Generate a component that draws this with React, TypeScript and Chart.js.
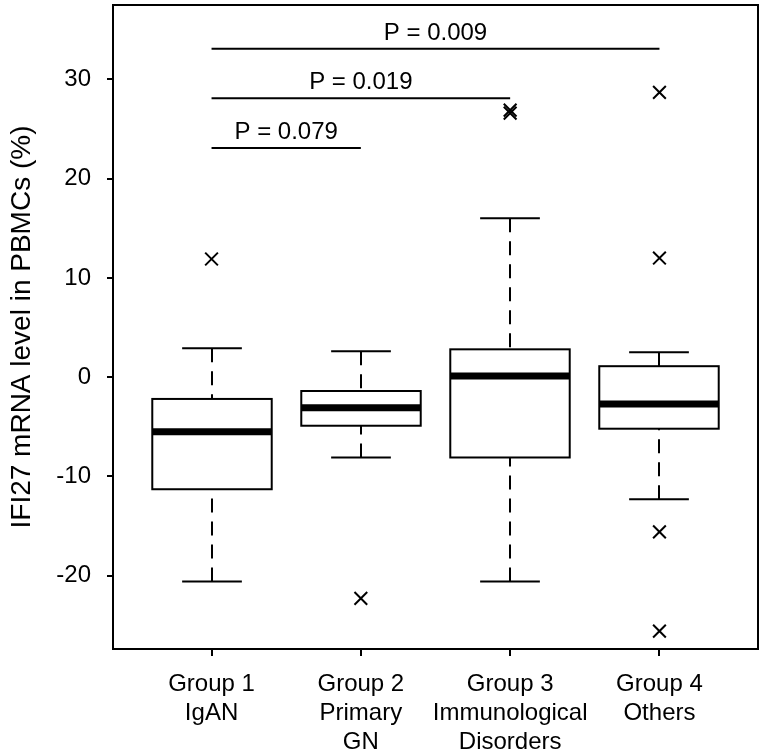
import React, { useEffect, useRef } from "react";
import { Chart, registerables } from "chart.js";

Chart.register(...registerables);

// ---- data ----
const categories: string[][] = [
  ["Group 1", "IgAN"],
  ["Group 2", "Primary", "GN"],
  ["Group 3", "Immunological", "Disorders"],
  ["Group 4", "Others"],
];
const whiskerLow = [-20.6, -8.1, -20.6, -12.3];
const q1 = [-11.3, -4.9, -8.1, -5.2];
const median = [-5.5, -3.1, 0.1, -2.7];
const q3 = [-2.2, -1.4, 2.8, 1.1];
const whiskerHigh = [2.9, 2.6, 16.0, 2.5];
const outliers: number[][] = [[11.9], [-22.3], [26.9, 26.6], [28.7, 12.0, -15.6, -25.6]];
const yTicks = [-20, -10, 0, 10, 20, 30];
const compFrom = [1, 1, 1];
const compTo = [2, 3, 4];
const compY = [23.1, 28.1, 33.1];
const compLabels = ["P = 0.079", "P = 0.019", "P = 0.009"];
const yTitle = "IFI27 mRNA level in PBMCs (%)";

const FONT = "'Liberation Sans', Arial, Helvetica, sans-serif";

const boxPlugin = {
  id: "boxplotDraw",
  beforeDatasetsDraw(chart: any) {
    const { ctx, chartArea } = chart;
    const x = chart.scales.x;
    const y = chart.scales.y;
    ctx.save();
    ctx.beginPath();
    ctx.rect(chartArea.left, chartArea.top, chartArea.right - chartArea.left, chartArea.bottom - chartArea.top);
    ctx.clip();
    const halfBox = x.getPixelForValue(1.4) - x.getPixelForValue(1.0);
    const halfCap = x.getPixelForValue(1.2) - x.getPixelForValue(1.0);
    ctx.strokeStyle = "#000";
    for (let i = 0; i < categories.length; i++) {
      const cx = Math.round(x.getPixelForValue(i + 1));
      const yLo = y.getPixelForValue(whiskerLow[i]);
      const yQ1 = y.getPixelForValue(q1[i]);
      const yMed = y.getPixelForValue(median[i]);
      const yQ3 = y.getPixelForValue(q3[i]);
      const yHi = y.getPixelForValue(whiskerHigh[i]);
      // dashed whiskers
      ctx.lineWidth = 2;
      ctx.setLineDash([14, 9]);
      ctx.beginPath();
      ctx.moveTo(cx, yHi);
      ctx.lineTo(cx, yQ3);
      ctx.moveTo(cx, yLo);
      ctx.lineTo(cx, yQ1);
      ctx.stroke();
      ctx.setLineDash([]);
      // caps
      ctx.beginPath();
      ctx.moveTo(cx - halfCap, yHi);
      ctx.lineTo(cx + halfCap, yHi);
      ctx.moveTo(cx - halfCap, yLo);
      ctx.lineTo(cx + halfCap, yLo);
      ctx.stroke();
      // box
      ctx.fillStyle = "#fff";
      ctx.fillRect(cx - halfBox, yQ3, 2 * halfBox, yQ1 - yQ3);
      ctx.strokeRect(cx - halfBox, yQ3, 2 * halfBox, yQ1 - yQ3);
      // median
      ctx.lineWidth = 7;
      ctx.beginPath();
      ctx.moveTo(cx - halfBox, yMed);
      ctx.lineTo(cx + halfBox, yMed);
      ctx.stroke();
    }
    // comparison bars
    ctx.lineWidth = 2;
    ctx.fillStyle = "#000";
    ctx.font = `24px ${FONT}`;
    ctx.textAlign = "center";
    ctx.textBaseline = "alphabetic";
    for (let k = 0; k < compY.length; k++) {
      const x0 = x.getPixelForValue(compFrom[k]);
      const x1 = x.getPixelForValue(compTo[k]);
      const yy = y.getPixelForValue(compY[k]);
      ctx.beginPath();
      ctx.moveTo(x0, yy);
      ctx.lineTo(x1, yy);
      ctx.stroke();
      ctx.fillText(compLabels[k], (x0 + x1) / 2, yy - 9);
    }
    ctx.restore();
  },
  afterDraw(chart: any) {
    const { ctx, chartArea } = chart;
    ctx.save();
    ctx.strokeStyle = "#000";
    ctx.lineWidth = 2;
    ctx.strokeRect(chartArea.left, chartArea.top, chartArea.right - chartArea.left, chartArea.bottom - chartArea.top);
    ctx.restore();
  },
};

export default function App() {
  const ref = useRef<HTMLCanvasElement | null>(null);
  useEffect(() => {
    if (!ref.current) return;
    Chart.defaults.font.family = FONT;
    const points: { x: number; y: number }[] = [];
    outliers.forEach((arr, i) => arr.forEach((v) => points.push({ x: i + 1, y: v })));
    const chart = new Chart(ref.current, {
      type: "scatter",
      data: {
        datasets: [
          {
            data: points,
            pointStyle: "crossRot",
            pointRadius: 9,
            pointBorderWidth: 2,
            borderColor: "#000",
            backgroundColor: "#000",
          } as any,
        ],
      },
      options: {
        animation: false,
        responsive: false,
        layout: { autoPadding: false, padding: { left: 0, top: 5, right: 9, bottom: 0 } },
        plugins: { legend: { display: false }, tooltip: { enabled: false } },
        scales: {
          x: {
            type: "linear",
            min: 0.34,
            max: 4.66,
            afterBuildTicks: (scale: any) => {
              scale.ticks = categories.map((_, i) => ({ value: i + 1 }));
            },
            afterFit: (scale: any) => {
              scale.height = 105;
              scale.paddingLeft = 0;
              scale.paddingRight = 0;
              scale.paddingTop = 0;
              scale.paddingBottom = 0;
            },
            ticks: {
              autoSkip: false,
              maxRotation: 0,
              minRotation: 0,
              padding: 14,
              color: "#000",
              font: { size: 24, family: FONT },
              callback: (v: any) => categories[Math.round(Number(v)) - 1] || "",
            },
            grid: {
              display: true,
              drawOnChartArea: false,
              drawTicks: true,
              tickLength: 7,
              color: "#000",
              lineWidth: 2,
            },
            border: { display: false },
          },
          y: {
            type: "linear",
            min: -27.4,
            max: 37.5,
            afterBuildTicks: (scale: any) => {
              scale.ticks = yTicks.map((v) => ({ value: v }));
            },
            afterFit: (scale: any) => {
              scale.width = 113;
              scale.paddingLeft = 0;
              scale.paddingRight = 0;
              scale.paddingTop = 0;
              scale.paddingBottom = 0;
            },
            ticks: {
              padding: 16,
              color: "#000",
              font: { size: 24, family: FONT },
              callback: (v: any) => String(v),
            },
            grid: {
              display: true,
              drawOnChartArea: false,
              drawTicks: true,
              tickLength: 6,
              color: "#000",
              lineWidth: 2,
            },
            border: { display: false },
            title: {
              display: true,
              text: yTitle,
              color: "#000",
              font: { size: 28, family: FONT },
              padding: { top: 5, bottom: 0 },
            },
          },
        },
      },
      plugins: [boxPlugin],
    });
    return () => chart.destroy();
  }, []);
  return (
    <div style={{ position: "absolute", left: 0, top: 0, width: 767, height: 754, background: "#fff" }}>
      <canvas ref={ref} width={767} height={754} style={{ width: 767, height: 754 }} />
    </div>
  );
}
